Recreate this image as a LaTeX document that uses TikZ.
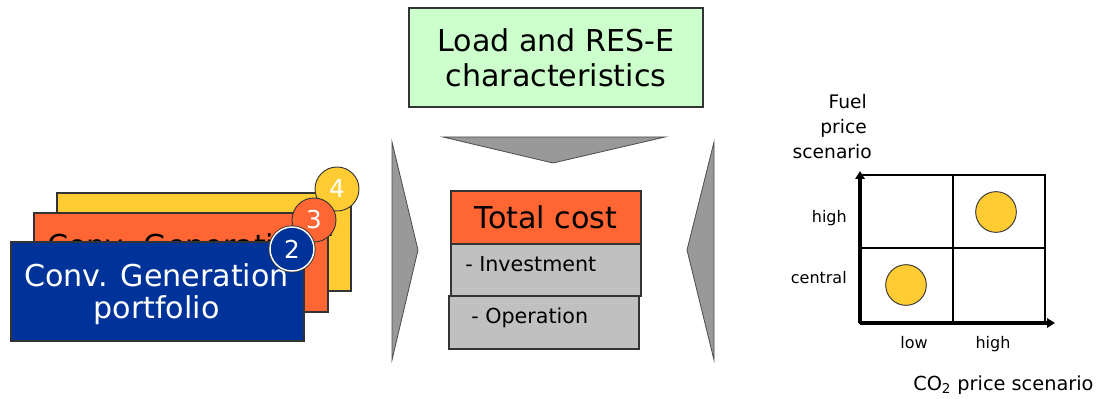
\documentclass[tikz,border=0pt]{standalone}
\usepackage{fontspec}
\setmainfont{DejaVu Sans}
\usetikzlibrary{arrows.meta}
\definecolor{lgreen}{HTML}{CCFFCC}
\definecolor{corange}{HTML}{FF6633}
\definecolor{cyellow}{HTML}{FFCC33}
\definecolor{cblue}{HTML}{003399}
\definecolor{cgrayA}{HTML}{999999}
\definecolor{cgrayB}{HTML}{C0C0C0}
\tikzset{
  boxstyle/.style={draw=black!80, line width=0.8pt, inner sep=0pt, outer sep=0pt},
  txt/.style={inner sep=0pt, anchor=base},
  big/.style={font=\fontsize{22.6}{26}\selectfont},
  mid/.style={font=\fontsize{15.5}{18}\selectfont},
  numcirc/.style={circle, draw=black!80, line width=0.7pt, minimum size=33pt, inner sep=0pt, text=white, font=\fontsize{18.5}{20}\selectfont},
  chev/.style={fill=cgrayA, draw=black!70, line width=0.6pt},
  gridl/.style={line width=1.1pt},
  axis/.style={line width=2.6pt, -{Triangle[length=6pt,width=7pt]}},
  dot/.style={circle, fill=cyellow, draw=black!80, line width=0.7pt, minimum size=30.5pt, inner sep=0pt},
  small/.style={inner sep=0pt, font=\fontsize{12}{14}\selectfont},
  axlab/.style={inner sep=0pt, font=\fontsize{14}{16}\selectfont},
}
\begin{document}
\begin{tikzpicture}[x=0.75pt,y=-0.75pt]
\useasboundingbox (0,0) rectangle (1113,399);
% top box
\node[boxstyle, fill=lgreen, minimum width=220.5pt, minimum height=74.25pt] (load) at (556,57.5) {};
\node[txt, big] (load1) at (556,52) {Load and RES-E};
\node[txt, big] (load2) at (556,87) {characteristics};
% chevrons
\path[chev] (443,137) -- (665,137) -- (553,163) -- cycle;
\path[chev] (392,142) -- (418,250) -- (392,360) -- cycle;
\path[chev] (714,142) -- (687,250) -- (714,360) -- cycle;
% cost boxes
\node[boxstyle, fill=corange, minimum width=142.5pt, minimum height=39.75pt] (tc) at (546,217.5) {};
\node[txt, big] (tct) at (546,228) {Total cost};
\node[boxstyle, fill=cgrayB, minimum width=142.5pt, minimum height=39pt] (inv) at (546,270) {};
\node[txt, mid, anchor=base west] (invt) at (465,271) {- Investment};
\node[boxstyle, fill=cgrayB, minimum width=142.5pt, minimum height=39.75pt] (op) at (544,322.5) {};
\node[txt, mid, anchor=base west] (opt) at (471,323) {- Operation};
% stack
\node[boxstyle, fill=cyellow, minimum width=220.5pt, minimum height=73.5pt] (ybox) at (204,242) {};
\node[txt, big] (yt1) at (202.5,236) {Conv. Generation};
\node[txt, big] (yt2) at (202.5,268) {portfolio};
\node[numcirc, fill=cyellow] (c4) at (337,189) {4};
\node[boxstyle, fill=corange, minimum width=220.5pt, minimum height=74.25pt] (obox) at (181,262.5) {};
\node[txt, big] (ot1) at (179.5,256) {Conv. Generation};
\node[txt, big] (ot2) at (179.5,288) {portfolio};
\node[numcirc, fill=corange] (c3) at (314,220) {3};
\node[boxstyle, fill=cblue, minimum width=219.75pt, minimum height=74.25pt] (bbox) at (157.5,291.5) {};
\node[txt, big, text=white] (bt1) at (156.5,286) {Conv. Generation};
\node[txt, big, text=white] (bt2) at (156.5,318) {portfolio};
\node[numcirc, fill=cblue, draw=white, line width=1.1pt, preaction={draw=black!80, line width=2.4pt}] (c2) at (292,249) {2};
% chart
\coordinate (o) at (860,323);
\coordinate (ytop) at (860,171);
\coordinate (xend) at (1055,323);
\draw[gridl] (860,175) rectangle (1045,323);
\draw[gridl] (953,175) -- (953,323);
\draw[gridl] (860,248) -- (1045,248);
\draw[axis] (o) -- (ytop);
\draw[axis] (o) -- (xend);
\node[dot] (d1) at (996,212) {};
\node[dot] (d2) at (906,285) {};
\node[small, anchor=base east] (lh) at (847,222) {high};
\node[small, anchor=base east] (lc) at (847,283) {central};
\node[small, anchor=base] (ll) at (914,348) {low};
\node[small, anchor=base] (lhx) at (993,348) {high};
\node[axlab, anchor=base east] (f1) at (867,109) {Fuel};
\node[axlab, anchor=base east] (f2) at (867,134) {price};
\node[axlab, anchor=base east] (f3) at (872,159) {scenario};
\node[inner sep=0pt, anchor=base west, font=\fontsize{14.5}{16}\selectfont] (co2) at (913,390) {CO\textsubscript{2} price scenario};
\end{tikzpicture}
\end{document}
